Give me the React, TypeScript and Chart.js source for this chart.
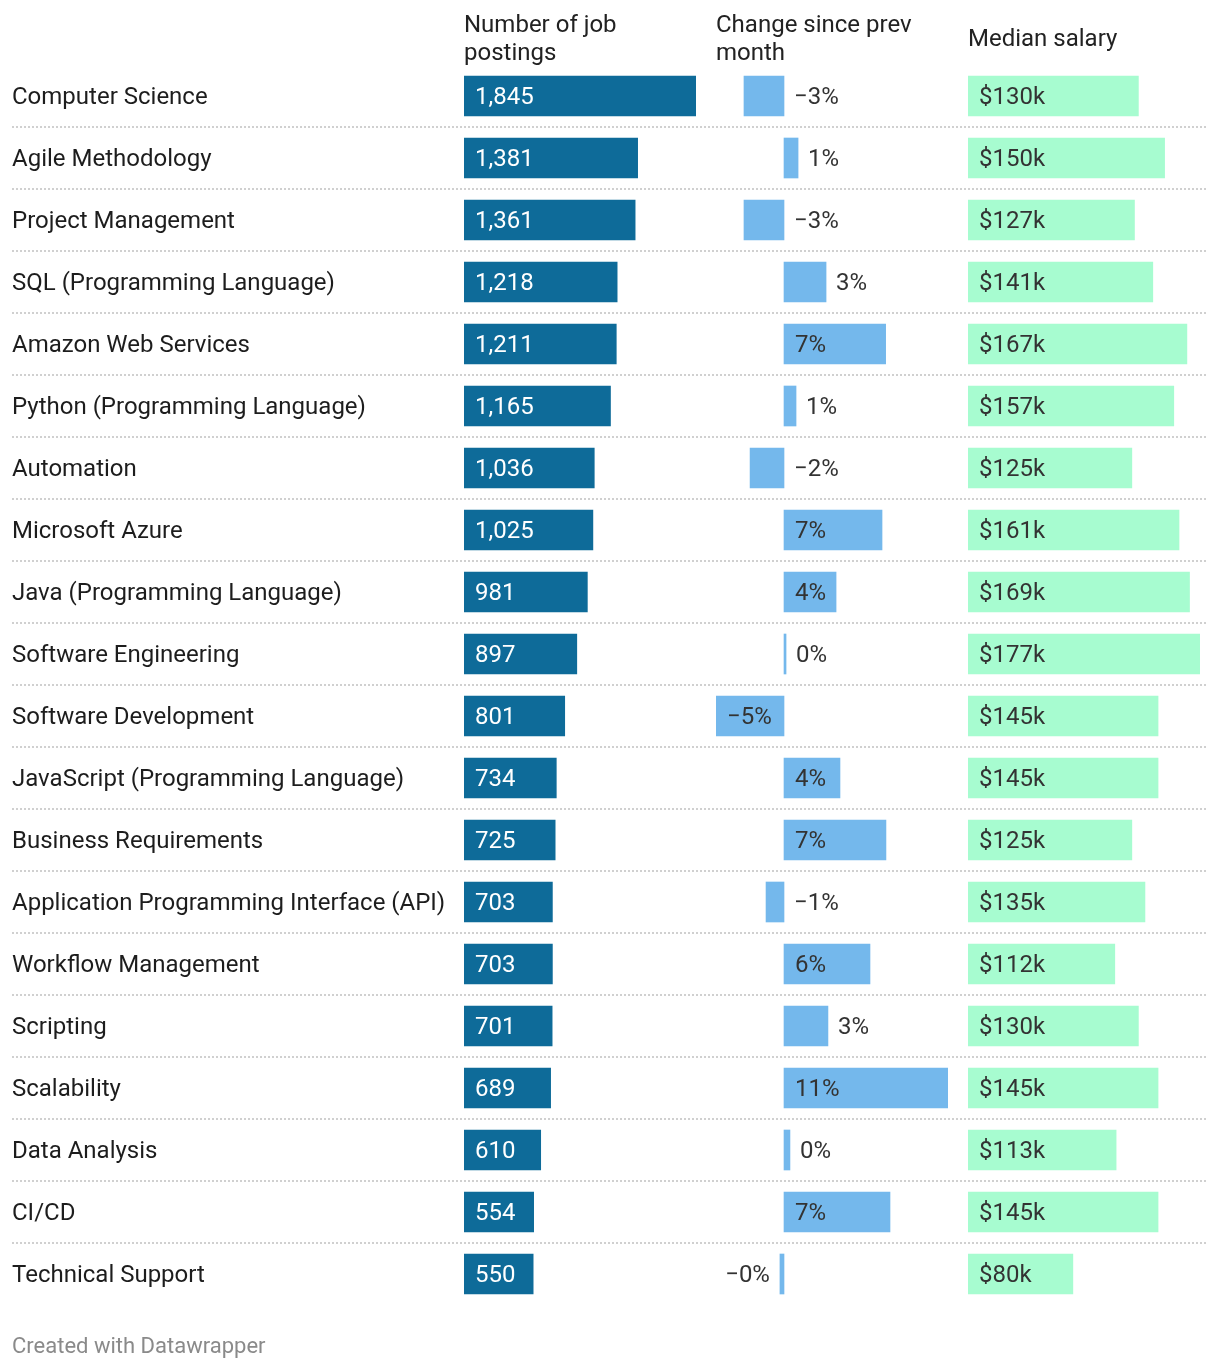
import React, { useEffect, useRef } from "react";
import { Chart, registerables } from "chart.js";

Chart.register(...registerables);

const skills = [
  "Computer Science",
  "Agile Methodology",
  "Project Management",
  "SQL (Programming Language)",
  "Amazon Web Services",
  "Python (Programming Language)",
  "Automation",
  "Microsoft Azure",
  "Java (Programming Language)",
  "Software Engineering",
  "Software Development",
  "JavaScript (Programming Language)",
  "Business Requirements",
  "Application Programming Interface (API)",
  "Workflow Management",
  "Scripting",
  "Scalability",
  "Data Analysis",
  "CI/CD",
  "Technical Support",
];

const jobPostings = [1845, 1381, 1361, 1218, 1211, 1165, 1036, 1025, 981, 897, 801, 734, 725, 703, 703, 701, 689, 610, 554, 550];

const changePct = [-2.76, 0.97, -2.76, 2.9, 7.01, 0.83, -2.34, 6.76, 3.59, 0.14, -4.69, 3.86, 7.03, -1.24, 5.93, 3.03, 11.31, 0.41, 7.31, -0.28];

const medianSalaryK = [130, 150, 127, 141, 167, 157, 125, 161, 169, 177, 145, 145, 125, 135, 112, 130, 145, 113, 145, 80];

const headers = ["Number of job\npostings", "Change since prev\nmonth", "Median salary"];
const footerText = "Created with Datawrapper";

const FONT = "Roboto, 'Noto Sans', sans-serif";
const W = 1220;
const H = 1370;
const TOP = 65;
const BOTTOM = 65;

const fmtJobs = (v: number) => v.toLocaleString("en-US");
const fmtChange = (v: number) => (v < 0 ? "\u2212" : "") + Math.abs(Math.round(v)) + "%";
const fmtSalary = (v: number) => "$" + v + "k";

function labelPlugin(id: string, fmt: (v: number) => string, insideColor: string, outsideColor: string) {
  return {
    id,
    afterDatasetsDraw(chart: any) {
      const ctx = chart.ctx;
      const meta = chart.getDatasetMeta(0);
      const values = chart.data.datasets[0].data as number[];
      const area = chart.chartArea;
      ctx.save();
      ctx.font = `24px ${FONT}`;
      ctx.textBaseline = "middle";
      meta.data.forEach((el: any, i: number) => {
        const v = values[i];
        const text = fmt(v);
        const w = ctx.measureText(text).width;
        const left = Math.min(el.x, el.base);
        const right = Math.max(el.x, el.base);
        const barW = right - left;
        const y = el.y + 2;
        if (barW >= w + 20) {
          ctx.fillStyle = insideColor;
          ctx.textAlign = "left";
          ctx.fillText(text, left + 11, y);
        } else if (v < 0 && left - area.left >= w + 12) {
          ctx.fillStyle = outsideColor;
          ctx.textAlign = "right";
          ctx.fillText(text, left - 10, y);
        } else {
          ctx.fillStyle = outsideColor;
          ctx.textAlign = "left";
          ctx.fillText(text, Math.max(right, el.base) + 10, y);
        }
      });
      ctx.restore();
    },
  };
}

const separatorPlugin = {
  id: "separators",
  beforeDatasetsDraw(chart: any) {
    const ctx = chart.ctx;
    const ys = chart.scales.y;
    const n = chart.data.labels.length;
    ctx.save();
    ctx.strokeStyle = "#d0d0d0";
    ctx.lineWidth = 2;
    ctx.setLineDash([2, 2]);
    for (let i = 0; i < n - 1; i++) {
      const y = Math.round((ys.getPixelForValue(i) + ys.getPixelForValue(i + 1)) / 2);
      ctx.beginPath();
      ctx.moveTo(12, y);
      ctx.lineTo(1208, y);
      ctx.stroke();
    }
    ctx.restore();
  },
};

function baseOptions(padLeft: number, padRight: number, xMin: number, xMax: number, showY: boolean) {
  return {
    indexAxis: "y" as const,
    responsive: false,
    animation: false as const,
    events: [],
    layout: { padding: { left: padLeft, right: padRight, top: TOP, bottom: BOTTOM } },
    plugins: { legend: { display: false }, tooltip: { enabled: false }, title: { display: false } },
    scales: {
      x: { display: false, min: xMin, max: xMax },
      y: showY
        ? {
            display: true,
            grid: { display: false },
            border: { display: false },
            ticks: {
              crossAlign: "far" as const,
              autoSkip: false,
              padding: 0,
              labelOffset: 2,
              color: "#1d1d1d",
              font: { family: FONT, size: 24 },
            },
            afterFit: (s: any) => {
              s.width = 452;
            },
          }
        : { display: false },
    },
  };
}

export default function App() {
  const c1 = useRef<HTMLCanvasElement>(null);
  const c2 = useRef<HTMLCanvasElement>(null);
  const c3 = useRef<HTMLCanvasElement>(null);

  useEffect(() => {
    const minC = Math.min(...changePct);
    const maxC = Math.max(...changePct);
    const charts: Chart[] = [];
    charts.push(
      new Chart(c1.current!, {
        type: "bar",
        data: {
          labels: skills,
          datasets: [{ data: jobPostings, backgroundColor: "#0e6b99", barThickness: 40 }],
        },
        options: baseOptions(12, W - 696, 0, Math.max(...jobPostings), true) as any,
        plugins: [separatorPlugin, labelPlugin("jobLabels", fmtJobs, "#ffffff", "#333333")],
      })
    );
    charts.push(
      new Chart(c2.current!, {
        type: "bar",
        data: {
          labels: skills,
          datasets: [{ data: changePct, backgroundColor: "#74b8ec", barThickness: 40 }],
        },
        options: baseOptions(716, W - 948, minC, maxC, false) as any,
        plugins: [labelPlugin("changeLabels", fmtChange, "#333333", "#333333")],
      })
    );
    charts.push(
      new Chart(c3.current!, {
        type: "bar",
        data: {
          labels: skills,
          datasets: [{ data: medianSalaryK, backgroundColor: "#a7fcd0", barThickness: 40 }],
        },
        options: baseOptions(968, W - 1200, 0, Math.max(...medianSalaryK), false) as any,
        plugins: [labelPlugin("salaryLabels", fmtSalary, "#333333", "#333333")],
      })
    );
    return () => charts.forEach((c) => c.destroy());
  }, []);

  const canvasStyle: React.CSSProperties = { position: "absolute", left: 0, top: 0, width: W, height: H };
  const headerStyle = (left: number): React.CSSProperties => ({
    position: "absolute",
    left,
    top: 10,
    height: 56,
    width: 250,
    display: "flex",
    alignItems: "center",
    fontFamily: FONT,
    fontSize: 24,
    lineHeight: "28px",
    color: "#222",
    whiteSpace: "pre-line",
  });

  return (
    <div style={{ position: "absolute", left: 0, top: 0, width: W, height: H, background: "#fff", overflow: "hidden" }}>
      <canvas ref={c1} width={W} height={H} style={canvasStyle} />
      <canvas ref={c2} width={W} height={H} style={canvasStyle} />
      <canvas ref={c3} width={W} height={H} style={canvasStyle} />
      <div style={headerStyle(464)}>{headers[0]}</div>
      <div style={headerStyle(716)}>{headers[1]}</div>
      <div style={headerStyle(968)}>{headers[2]}</div>
      <div
        style={{
          position: "absolute",
          left: 12,
          top: 1332,
          fontFamily: FONT,
          fontSize: 22,
          lineHeight: "28px",
          color: "#8a8a8a",
        }}
      >
        {footerText}
      </div>
    </div>
  );
}
